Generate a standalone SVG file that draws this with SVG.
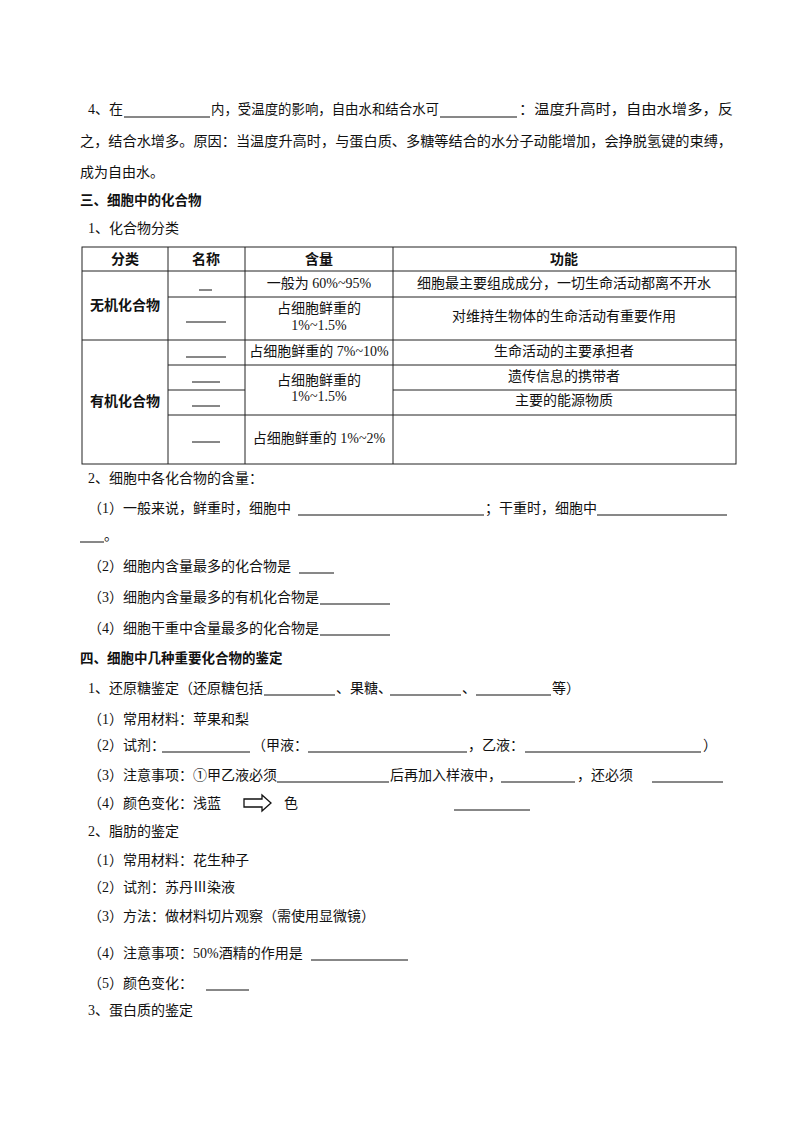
<svg xmlns="http://www.w3.org/2000/svg" width="800" height="1132" viewBox="0 0 800 1132">
<style>
text{font-family:"Liberation Serif","Noto Sans CJK SC",serif;font-size:14px;fill:#111}
.b{font-weight:bold;font-family:"Noto Sans CJK SC",sans-serif}
.m{text-anchor:middle}
.u{stroke:#111;stroke-width:1}
.t{stroke:#222;stroke-width:1;fill:none}
</style>
<rect width="800" height="1132" fill="#fff"/>
<text x="88" y="114">4、在</text><line class="u" x1="124" y1="117" x2="210" y2="117"/>
<text x="211" y="114" textLength="228" lengthAdjust="spacingAndGlyphs">内，受温度的影响，自由水和结合水可</text>
<line class="u" x1="440" y1="117" x2="517" y2="117"/>
<text x="519" y="114" textLength="214" lengthAdjust="spacingAndGlyphs">：温度升高时，自由水增多，反</text>
<text x="80" y="146" textLength="652" lengthAdjust="spacingAndGlyphs">之，结合水增多。原因：当温度升高时，与蛋白质、多糖等结合的水分子动能增加，会挣脱氢键的束缚，</text>
<text x="80" y="177">成为自由水。</text>
<text x="80" y="205" class="b" style="font-size:13.5px">三、细胞中的化合物</text>
<text x="88" y="233">1、化合物分类</text>
<g id="table">
<rect class="t" x="82" y="247" width="654" height="217"/>
<line class="t" x1="82" y1="271" x2="736" y2="271"/>
<line class="t" x1="82" y1="340" x2="736" y2="340"/>
<line class="t" x1="168" y1="297" x2="736" y2="297"/>
<line class="t" x1="168" y1="365" x2="736" y2="365"/>
<line class="t" x1="168" y1="390" x2="245" y2="390"/>
<line class="t" x1="393" y1="390" x2="736" y2="390"/>
<line class="t" x1="168" y1="415" x2="736" y2="415"/>
<line class="t" x1="168" y1="247" x2="168" y2="464"/>
<line class="t" x1="245" y1="247" x2="245" y2="464"/>
<line class="t" x1="393" y1="247" x2="393" y2="464"/>
<text class="b m" x="125" y="264">分类</text><text class="b m" x="206" y="264">名称</text>
<text class="b m" x="319" y="264">含量</text><text class="b m" x="564" y="264">功能</text>
<text class="b m" x="125" y="310">无机化合物</text>
<text class="b m" x="125" y="406">有机化合物</text>
<line class="u" x1="199" y1="290" x2="212" y2="290"/>
<line class="u" x1="186" y1="322" x2="226" y2="322"/>
<line class="u" x1="186" y1="357" x2="226" y2="357"/>
<line class="u" x1="192" y1="382" x2="220" y2="382"/>
<line class="u" x1="192" y1="406" x2="220" y2="406"/>
<line class="u" x1="192" y1="442" x2="220" y2="442"/>
<text class="m" x="319" y="288">一般为 60%~95%</text>
<text class="m" x="319" y="313">占细胞鲜重的</text><text class="m" x="319" y="330">1%~1.5%</text>
<text class="m" x="319" y="356">占细胞鲜重的 7%~10%</text>
<text class="m" x="319" y="385">占细胞鲜重的</text><text class="m" x="319" y="401">1%~1.5%</text>
<text class="m" x="319" y="443">占细胞鲜重的 1%~2%</text>
<text class="m" x="564" y="288">细胞最主要组成成分，一切生命活动都离不开水</text>
<text class="m" x="564" y="321">对维持生物体的生命活动有重要作用</text>
<text class="m" x="564" y="356">生命活动的主要承担者</text>
<text class="m" x="564" y="381">遗传信息的携带者</text>
<text class="m" x="564" y="405">主要的能源物质</text>
</g>
<text x="88" y="483">2、细胞中各化合物的含量：</text>
<text x="88" y="513">（1）一般来说，鲜重时，细胞中</text><line class="u" x1="298" y1="515" x2="484" y2="515"/>
<text x="485" y="513">；干重时，细胞中</text><line class="u" x1="597" y1="515" x2="727" y2="515"/>
<line class="u" x1="80" y1="542" x2="104" y2="542"/><text x="104" y="540">。</text>
<text x="88" y="571">（2）细胞内含量最多的化合物是</text><line class="u" x1="299" y1="573" x2="334" y2="573"/>
<text x="88" y="602">（3）细胞内含量最多的有机化合物是</text><line class="u" x1="320" y1="604" x2="390" y2="604"/>
<text x="88" y="633">（4）细胞干重中含量最多的化合物是</text><line class="u" x1="320" y1="635" x2="390" y2="635"/>
<text x="80" y="663" class="b" style="font-size:13.5px">四、细胞中几种重要化合物的鉴定</text>
<text x="88" y="693">1、还原糖鉴定（还原糖包括</text><line class="u" x1="264" y1="695" x2="335" y2="695"/>
<text x="336" y="693">、果糖、</text><line class="u" x1="390" y1="695" x2="461" y2="695"/>
<text x="462" y="693">、</text><line class="u" x1="476" y1="695" x2="551" y2="695"/><text x="552" y="693">等）</text>
<text x="88" y="724">（1）常用材料：苹果和梨</text>
<text x="88" y="750">（2）试剂：</text><line class="u" x1="162" y1="752" x2="250" y2="752"/>
<text x="252" y="750">（甲液：</text><line class="u" x1="308" y1="752" x2="467" y2="752"/>
<text x="468" y="750">，乙液：</text><line class="u" x1="525" y1="752" x2="701" y2="752"/><text x="703" y="750">）</text>
<text x="88" y="780">（3）注意事项：①甲乙液必须</text><line class="u" x1="277" y1="782" x2="389" y2="782"/>
<text x="390" y="780">后再加入样液中，</text><line class="u" x1="501" y1="782" x2="575" y2="782"/>
<text x="577" y="780">，还必须</text><line class="u" x1="652" y1="782" x2="723" y2="782"/>
<text x="88" y="808">（4）颜色变化：浅蓝</text>
<path d="M244 799 H262 V795 L271 803 L262 811 V807 H244 Z" fill="none" stroke="#111" stroke-width="1.3"/>
<text x="284" y="808">色</text><line class="u" x1="454" y1="810" x2="530" y2="810"/>
<text x="88" y="836">2、脂肪的鉴定</text>
<text x="88" y="865">（1）常用材料：花生种子</text>
<text x="88" y="892">（2）试剂：苏丹Ⅲ染液</text>
<text x="88" y="921">（3）方法：做材料切片观察（需使用显微镜）</text>
<text x="88" y="958">（4）注意事项：50%酒精的作用是</text><line class="u" x1="311" y1="960" x2="408" y2="960"/>
<text x="88" y="988">（5）颜色变化：</text><line class="u" x1="206" y1="990" x2="249" y2="990"/>
<text x="88" y="1015">3、蛋白质的鉴定</text>
</svg>
